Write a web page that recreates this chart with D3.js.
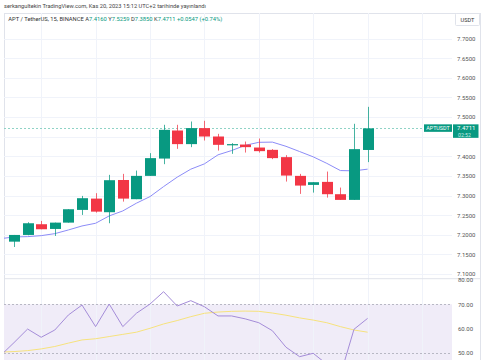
<!DOCTYPE html>
<html><head><meta charset="utf-8">
<script src="https://cdn.jsdelivr.net/npm/d3@7"></script>
<style>
html,body{margin:0;padding:0;background:#fff;}
svg{display:block;font-family:Roboto,"Noto Sans",sans-serif;}
</style></head>
<body>
<svg id="chart" width="485" height="360"></svg>
<script>
// ---- data ----
const candleIndex = d3.range(1, 28);
const opens  = [7.1824,7.1995,7.2268,7.2148,7.2309,7.2633,7.2921,7.2574,7.3395,7.2906,7.3500,7.3941,7.4656,7.4309,7.4717,7.4503,7.4291,7.4298,7.4222,7.4163,7.3977,7.3500,7.3270,7.3347,7.3033,7.2888,7.4160];
const highs  = [7.1995,7.2319,7.2352,7.2309,7.2650,7.2990,7.3059,7.3526,7.3551,7.3635,7.4079,7.4801,7.4801,7.4885,7.4903,7.4571,7.4334,7.4375,7.4452,7.4181,7.4028,7.3551,7.3339,7.3610,7.3202,7.4827,7.5259];
const lows   = [7.1689,7.1987,7.2140,7.1969,7.2309,7.2505,7.2564,7.2293,7.2844,7.2906,7.3500,7.3798,7.4189,7.4232,7.4401,7.4145,7.4061,7.4094,7.4094,7.3926,7.3355,7.3041,7.3074,7.2946,7.2888,7.2888,7.3850];
const closes = [7.1995,7.2293,7.2140,7.2309,7.2650,7.2931,7.2589,7.3390,7.2921,7.3500,7.3952,7.4673,7.4309,7.4717,7.4503,7.4291,7.4309,7.4232,7.4130,7.3952,7.3508,7.3253,7.3339,7.3033,7.2888,7.4181,7.4711];
// moving average on price, index 0..27 (index 0 = candle just off the left edge)
const maValues = [7.1900,7.1944,7.1952,7.1977,7.2028,7.2122,7.2224,7.2293,7.2480,7.2607,7.2804,7.2972,7.3227,7.3467,7.3671,7.3806,7.4036,7.4145,7.4278,7.4355,7.4360,7.4253,7.4120,7.3985,7.3819,7.3635,7.3628,7.3671];
const rsiValues = [48.8,54.2,59.8,56.4,59.4,65.6,69.7,60.8,70.1,60.8,66.3,70.1,75.2,69.3,71.5,69.0,65.2,65.2,64.0,62.4,59.1,52.3,48.4,49.8,45.3,40.8,59.7,64.2];
const rsiMaValues = [50.3,50.5,50.9,51.6,52.6,54.0,55.3,55.8,56.7,57.6,58.5,60.1,61.9,63.3,64.9,66.3,66.8,67.1,67.2,67.1,66.4,65.5,64.4,63.5,62.4,60.8,59.4,58.5];
const priceGridTicks = [7.10,7.15,7.20,7.25,7.30,7.35,7.40,7.45,7.50,7.55,7.60,7.65,7.70];
const priceLabelTicks = [7.10,7.15,7.20,7.25,7.30,7.35,7.40,7.50,7.55,7.60,7.65,7.70];
const rsiTicks = [50,60,70,80];
const gridCandles = [3,7,11,15,19,23,27,31];
const lastPrice = 7.4711;
const publishLine = "serkangultekin TradingView.com, Kas 20, 2023 15:12 UTC+2 tarihinde yayınlandı";
const symbolText = "APT / TetherUS, 15, BINANCE";
const ohlcLabels = ["A","Y","D","K"];
const ohlcValues = ["7.4160","7.5259","7.3850","7.4711"];
const changeText = "+0.0547 (+0.74%)";

// ---- layout ----
const GREEN = "#089981", RED = "#f23645";
const paneL = 4, paneR = 452, frameR = 480.5, paneTop = 13, sepY = 278.7, paneBottom = 360;
const svg = d3.select("#chart");
const x = d3.scaleLinear().domain([1, 27]).range([14, 367.6]);
const y = d3.scaleLinear().domain([7.1, 7.7]).range([274, 38.5]);
const yr = d3.scaleLinear().domain([50, 70]).range([352.8, 304.3]);

const defs = svg.append("defs");
defs.append("clipPath").attr("id","mainClip").append("rect")
  .attr("x",paneL).attr("y",paneTop).attr("width",paneR-paneL).attr("height",sepY-paneTop);
defs.append("clipPath").attr("id","rsiClip").append("rect")
  .attr("x",paneL).attr("y",sepY).attr("width",paneR-paneL).attr("height",paneBottom-sepY);

// publish line
svg.append("text").attr("x",4).attr("y",8).attr("font-size",5.6).attr("fill","#444")
  .attr("textLength",202).attr("lengthAdjust","spacingAndGlyphs").text(publishLine);

// frame
svg.append("rect").attr("x",paneL+0.5).attr("y",paneTop+0.5).attr("width",frameR-paneL-0.5).attr("height",paneBottom)
  .attr("fill","none").attr("stroke","#e0e3eb");

// RSI band background
svg.append("rect").attr("clip-path","url(#rsiClip)")
  .attr("x",paneL).attr("y",yr(70)).attr("width",paneR-paneL).attr("height",paneBottom-yr(70))
  .attr("fill","#f0ecf8");

// vertical grid
svg.append("g").selectAll("line").data(gridCandles).join("line")
  .attr("x1",d=>Math.round(x(d))+0.5).attr("x2",d=>Math.round(x(d))+0.5)
  .attr("y1",paneTop).attr("y2",paneBottom).attr("stroke","#f0f3fa");

// horizontal grid
svg.append("g").selectAll("line").data(priceGridTicks).join("line")
  .attr("x1",paneL).attr("x2",paneR)
  .attr("y1",d=>Math.round(y(d))+0.5).attr("y2",d=>Math.round(y(d))+0.5)
  .attr("stroke","#f0f3fa");

// pane separator
svg.append("line").attr("x1",paneL).attr("x2",frameR).attr("y1",sepY).attr("y2",sepY).attr("stroke","#e0e3eb");

// RSI dashed levels
svg.append("g").selectAll("line").data([70,50]).join("line")
  .attr("x1",paneL).attr("x2",paneR)
  .attr("y1",d=>Math.round(yr(d))+0.5).attr("y2",d=>Math.round(yr(d))+0.5)
  .attr("stroke","#b8b8c4").attr("stroke-dasharray","2,2");

// last price dashed line
svg.append("line").attr("x1",paneL).attr("x2",424).attr("y1",Math.round(y(lastPrice))+0.5).attr("y2",Math.round(y(lastPrice))+0.5)
  .attr("stroke","#8fd3c6").attr("stroke-dasharray","2,2");

const main = svg.append("g").attr("clip-path","url(#mainClip)");
// MA line
main.append("path").datum(maValues)
  .attr("fill","none").attr("stroke","#8c8cf7").attr("stroke-width",1)
  .attr("d", d3.line().x((d,i)=>x(i)).y(d=>y(d)));

// candles
const cg = main.append("g").selectAll("g").data(candleIndex).join("g");
const col = i => closes[i-1] >= opens[i-1] ? GREEN : RED;
cg.append("line")
  .attr("x1",i=>Math.round(x(i))+0.5).attr("x2",i=>Math.round(x(i))+0.5)
  .attr("y1",i=>y(highs[i-1])).attr("y2",i=>y(lows[i-1]))
  .attr("stroke",col).attr("stroke-opacity",0.75);
cg.append("rect")
  .attr("x",i=>Math.round(x(i))-5).attr("width",11)
  .attr("y",i=>y(Math.max(opens[i-1],closes[i-1])))
  .attr("height",i=>Math.max(1.2, Math.abs(y(opens[i-1])-y(closes[i-1]))))
  .attr("fill",col);

// RSI lines
const rsiG = svg.append("g").attr("clip-path","url(#rsiClip)");
rsiG.append("path").datum(rsiMaValues).attr("fill","none").attr("stroke","#f6e27d").attr("stroke-width",1)
  .attr("d", d3.line().x((d,i)=>x(i)).y(d=>yr(d)));
rsiG.append("path").datum(rsiValues).attr("fill","none").attr("stroke","#a48cd8").attr("stroke-width",1)
  .attr("d", d3.line().x((d,i)=>x(i)).y(d=>yr(d)));

// price axis
const pAxis = svg.append("g").attr("transform","translate(455,0)")
  .call(d3.axisRight(y).tickValues(priceLabelTicks).tickFormat(d3.format(".4f")).tickSize(0).tickPadding(2));
pAxis.select(".domain").remove();
pAxis.selectAll("text").attr("font-size",6).attr("fill","#555").attr("font-family","Roboto,sans-serif");

// RSI axis
const rAxis = svg.append("g").attr("transform","translate(456,0)")
  .call(d3.axisRight(yr).tickValues(rsiTicks).tickFormat(d3.format(".2f")).tickSize(0).tickPadding(2));
rAxis.select(".domain").remove();
rAxis.selectAll("text").attr("font-size",6).attr("fill","#555").attr("font-family","Roboto,sans-serif");

// header legend
const hdr = svg.append("text").attr("x",8.3).attr("y",21).attr("font-size",5.6).attr("fill","#333")
  .attr("textLength",214).attr("lengthAdjust","spacingAndGlyphs");
hdr.append("tspan").text(symbolText + "  ");
ohlcLabels.forEach((l,i)=>{
  hdr.append("tspan").attr("fill","#333").text(l);
  hdr.append("tspan").attr("fill",GREEN).text(ohlcValues[i] + "  ");
});
hdr.append("tspan").attr("fill",GREEN).text(changeText);

// USDT box
svg.append("rect").attr("x",455.5).attr("y",13.5).attr("width",24).attr("height",12)
  .attr("fill","#fff").attr("stroke","#e0e3eb").attr("rx",1);
svg.append("text").attr("x",467.5).attr("y",21.5).attr("text-anchor","middle").attr("font-size",5.6).attr("fill","#333").text("USDT");

// last price labels
const ly = y(lastPrice);
svg.append("rect").attr("x",424).attr("y",ly-4).attr("width",28).attr("height",7.5).attr("fill",GREEN);
svg.append("text").attr("x",438).attr("y",ly+2).attr("text-anchor","middle").attr("font-size",5.4).attr("fill","#fff").text("APTUSDT");
svg.append("rect").attr("x",453).attr("y",ly-4).attr("width",25.5).attr("height",13.5).attr("fill",GREEN);
svg.append("text").attr("x",457).attr("y",ly+1.8).attr("font-size",6).attr("fill","#fff").text(d3.format(".4f")(lastPrice));
svg.append("text").attr("x",458).attr("y",ly+8.4).attr("font-size",5.2).attr("fill","#cdeee7").text("02:52");
</script>
</body></html>
